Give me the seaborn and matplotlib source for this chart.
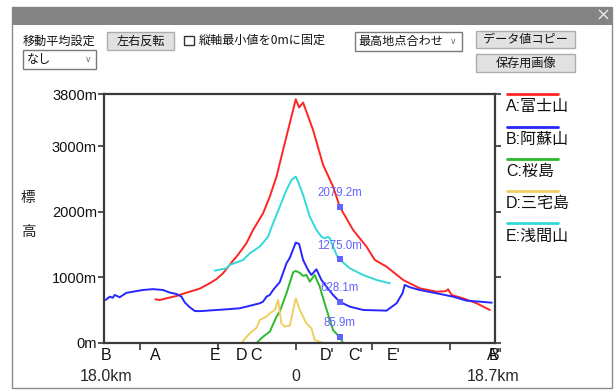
import pandas as pd
import matplotlib.pyplot as plt
import matplotlib.patches as mpatches
import matplotlib.lines as mlines
import seaborn as sns

# Set graph style
sns.set_style("white")
plt.rcParams['font.family'] = ['Liberation Sans', 'Noto Sans CJK JP', 'DejaVu Sans']

# Profile data: distance from highest point (km) and elevation (m)
names = ['A:富士山', 'B:阿蘇山', 'C:桜島', 'D:三宅島', 'E:浅間山']
colors = ['#ff2424', '#2626ff', '#2db82d', '#efcf62', '#33d9d9']

a_km = [-13.17, -12.77, -12.14, -11.20, -10.26, -9.01, -8.08, -7.45, -6.85, -5.92,
        -5.45, -4.63, -4.01, -3.07, -2.44, -1.81, -1.19, -0.56, 0.0, 0.31,
        0.69, 1.62, 2.56, 3.50, 4.13, 5.38, 6.64, 7.42, 8.52, 10.08,
        11.64, 13.21, 14.08, 14.30, 14.62, 15.71, 16.97, 18.22]
a_m = [667, 656, 682, 718, 768, 830, 911, 975, 1060, 1250,
       1340, 1522, 1725, 1980, 2234, 2539, 2947, 3355, 3720, 3595,
       3669, 3252, 2720, 2387, 2079, 1725, 1470, 1267, 1165, 962,
       835, 783, 790, 820, 733, 682, 606, 504]

b_km = [-17.84, -17.46, -17.18, -16.99, -16.53, -15.90, -15.28, -14.34, -13.40, -12.46,
        -11.83, -11.20, -10.73, -10.42, -9.95, -9.48, -9.01, -6.51, -5.26, -4.63,
        -3.38, -3.07, -2.75, -2.44, -2.13, -1.50, -0.87, -0.56, 0.0, 0.31,
        0.69, 1.15, 1.47, 1.94, 2.41, 2.88, 3.50, 4.13, 5.07, 6.32,
        8.52, 9.46, 10.02, 10.23, 10.70, 11.64, 13.21, 14.77, 16.03, 17.28, 18.40]
b_m = [657, 707, 690, 733, 698, 765, 783, 809, 822, 809,
       770, 748, 707, 620, 545, 489, 486, 514, 530, 555,
       606, 631, 707, 733, 809, 930, 1217, 1300, 1532, 1512,
       1267, 1115, 1038, 1125, 962, 860, 733, 628, 555, 504,
       494, 606, 759, 886, 851, 809, 759, 707, 646, 631, 615]

c_km = [-3.69, -3.07, -2.44, -1.81, -1.50, -0.87, -0.25, 0.0, 0.38, 0.69,
        1.00, 1.31, 1.78, 2.25, 2.72, 3.50, 4.13, 4.44, 5.23]
c_m = [0, 96, 173, 400, 480, 760, 1080, 1100, 1070, 1023,
       1040, 936, 1038, 860, 600, 198, 86, 0, 0]

d_km = [-5.10, -4.32, -3.69, -3.38, -2.75, -2.44, -1.97, -1.66, -1.35, -1.03,
        -0.56, 0.0, 0.38, 1.00, 1.47, 1.78, 2.56]
d_m = [0, 148, 230, 351, 402, 453, 504, 657, 300, 250,
       265, 682, 504, 300, 224, 46, 0]

e_km = [-7.61, -6.51, -6.20, -4.95, -4.32, -3.38, -2.60, -2.13, -1.50, -0.87,
        -0.40, 0.0, 0.22, 0.69, 1.31, 1.47, 1.94, 2.41, 2.72, 3.03,
        3.19, 3.50, 3.97, 4.13, 5.07, 6.32, 7.58, 8.83]
e_m = [1104, 1140, 1191, 1267, 1369, 1471, 1623, 1827, 2081, 2336,
       2489, 2540, 2463, 2260, 1929, 1878, 1725, 1623, 1599, 1620,
       1599, 1471, 1293, 1275, 1140, 1038, 962, 911]

# Marker readouts
mark_km = 4.13
mark_m = [2079.2, 1275.0, 628.1, 85.9]

# Start / end labels of each profile
start_labels = ['A', 'B', 'C', 'D', 'E']
end_labels = ["A'", "B'", "C'", "D'", "E'"]

# Build long table
series = [(a_km, a_m), (b_km, b_m), (c_km, c_m), (d_km, d_m), (e_km, e_m)]
frames = []
for name, (xs, ys) in zip(names, series):
    frames.append(pd.DataFrame({'km': xs, 'elev': ys, 'name': name}))
df = pd.concat(frames, ignore_index=True)

W, H = 616, 390
JP = ['Noto Sans CJK JP', 'DejaVu Sans']


def fx(x):
    return x / W


def fy(y):
    return 1 - y / H


fig = plt.figure(figsize=(6.16, 3.90), dpi=100)

# Dialog window frame (behind everything)
fig.patches.append(mpatches.Rectangle((fx(12), fy(388)), fx(600), (388 - 7) / H,
                                      facecolor='white', edgecolor='#8a8a8a', lw=1,
                                      transform=fig.transFigure, figure=fig, zorder=-10))
fig.patches.append(mpatches.Rectangle((fx(12), fy(25)), fx(600), 18 / H,
                                      facecolor='#838383', edgecolor='none',
                                      transform=fig.transFigure, figure=fig, zorder=-9))
fig.text(fx(603), fy(16), '×', color='#e6e6e6', fontsize=13, ha='center', va='center',
         family=['DejaVu Sans'])


def button(x0, y0, x1, y1, label, face='#e1e1e1', edge='#adadad', ha='center', tx=None):
    fig.patches.append(mpatches.Rectangle((fx(x0), fy(y1)), fx(x1 - x0), (y1 - y0) / H,
                                          facecolor=face, edgecolor=edge, lw=1,
                                          transform=fig.transFigure, figure=fig, zorder=-5))
    if tx is None:
        tx = (x0 + x1) / 2
    fig.text(fx(tx), fy((y0 + y1) / 2), label, fontsize=8.7, ha=ha, va='center',
             family=JP, color='#111111')


fig.text(fx(23), fy(41), '移動平均設定', fontsize=8.7, va='center', family=JP, color='#111111')
button(23, 50, 96, 69, 'なし', face='white', edge='#7a7a7a', ha='left', tx=27)
fig.text(fx(88), fy(60), '∨', fontsize=6.5, ha='center', va='center', color='#777777',
         family=['DejaVu Sans'])
button(107, 32, 174, 50, '左右反転')
fig.patches.append(mpatches.Rectangle((fx(184), fy(45)), fx(10), 9 / H,
                                      facecolor='white', edgecolor='#333333', lw=1,
                                      transform=fig.transFigure, figure=fig, zorder=-5))
fig.text(fx(199), fy(40), '縦軸最小値を0mに固定', fontsize=8.7, va='center', family=JP,
         color='#111111')
button(355, 32, 462, 51, '最高地点合わせ', face='white', edge='#7a7a7a', ha='left', tx=358)
fig.text(fx(453), fy(42), '∨', fontsize=6.5, ha='center', va='center', color='#777777',
         family=['DejaVu Sans'])
button(476, 31, 575, 48, 'データ値コピー')
button(476, 54, 575, 72, '保存用画像')

# Chart axes
ax = fig.add_axes([fx(104), fy(343), fx(495 - 104), (343 - 94) / H])
ax.patch.set_alpha(0)

sns.lineplot(data=df, x='km', y='elev', hue='name', palette=colors,
             estimator=None, sort=False, legend=False, lw=1.4, ax=ax)

ax.set_xlim(-18.0, 18.7)
ax.set_ylim(0, 3800)
ax.set_xlabel('')
ax.set_ylabel('')

ax.set_yticks([0, 1000, 2000, 3000, 3800])
ax.set_yticklabels(['0m', '1000m', '2000m', '3000m', '3800m'])
ax.set_xticks([-14.6, -7.3, 0, 7.2, 14.5])
ax.set_xticklabels([])
ax.tick_params(axis='y', left=True, right=True, length=4, width=1.2, pad=1,
               labelsize=10.5, colors='#333333', labelcolor='#111111')
ax.tick_params(axis='x', bottom=True, length=5, width=1.2, colors='#333333')
for side in ax.spines.values():
    side.set_color('#3a3a3a')
    side.set_linewidth(1.6)

# Marker readouts on the curves
mark_colour = '#6262ff'
ax.scatter([mark_km] * len(mark_m), mark_m, marker='s', s=22, color=mark_colour,
           zorder=5, linewidths=0)
for v in mark_m:
    ax.annotate(f'{v:.1f}m', (mark_km, v), xytext=(0, 10), textcoords='offset points',
                ha='center', va='center', fontsize=8.3, color=mark_colour)

# Start / end letters under the axis (A' and B' end almost together, as in the original)
trans = ax.get_xaxis_transform()
for lab, xs in zip(start_labels, [a_km, b_km, c_km, d_km, e_km]):
    ax.text(xs[0], -0.05, lab, transform=trans, ha='center', va='center',
            fontsize=11.5, color='#111111')
for lab, xs in zip(end_labels, [a_km, b_km, c_km, d_km, e_km]):
    ax.text(xs[-1] + 0.35, -0.05, lab, transform=trans, ha='center', va='center',
            fontsize=11.5, color='#111111')
ax.text(-17.85, -0.135, '18.0km', transform=trans, ha='center', va='center', fontsize=11.5)
ax.text(0, -0.135, '0', transform=trans, ha='center', va='center', fontsize=11.5)
ax.text(18.5, -0.135, '18.7km', transform=trans, ha='center', va='center', fontsize=11.5)

# Vertical axis title
fig.text(fx(28), fy(198), '標', fontsize=10.5, ha='center', va='center', family=JP)
fig.text(fx(28), fy(232), '高', fontsize=10.5, ha='center', va='center', family=JP)

# Legend: line above each name
for i, (name, col) in enumerate(zip(names, colors)):
    y_line = 94.3 + 32.3 * i
    fig.add_artist(mlines.Line2D([fx(507), fx(558)], [fy(y_line), fy(y_line)],
                                 color=col, lw=2))
    fig.text(fx(506), fy(y_line + 12.5), name, fontsize=11.5, va='center', color='#111111')

fig.savefig('out.png', dpi=100)
